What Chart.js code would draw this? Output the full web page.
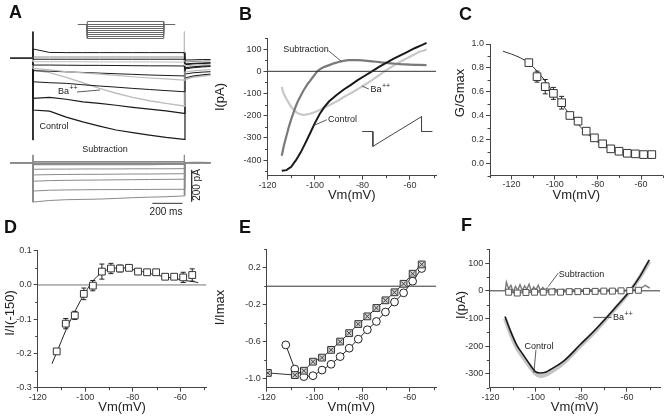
<!DOCTYPE html>
<html>
<head>
<meta charset="utf-8">
<script src="https://cdn.jsdelivr.net/npm/chart.js@4.4.1/dist/chart.umd.min.js"></script>
<style>
body { margin: 0; background: #fff; }
#fig { position: relative; width: 669px; height: 419px; overflow: hidden; }
#fig canvas { position: absolute; }
.lab { position: absolute; font: bold 18px 'Liberation Sans', Arial, sans-serif; line-height: 18px; color: #111; }
</style>
</head>
<body>
<div id="fig">
	<canvas id="cAp" width="115" height="30" style="left:68px;top:14px"></canvas>
	<canvas id="cAu" width="215" height="122" style="left:0px;top:25px"></canvas>
	<canvas id="cAl" width="215" height="79" style="left:0px;top:140px"></canvas>
	<canvas id="cB" width="234" height="210" style="left:210px;top:0px"></canvas>
	<canvas id="cC" width="224" height="210" style="left:445px;top:0px"></canvas>
	<canvas id="cD" width="215" height="209" style="left:0px;top:210px"></canvas>
	<canvas id="cE" width="235" height="209" style="left:210px;top:210px"></canvas>
	<canvas id="cF" width="224" height="209" style="left:445px;top:210px"></canvas>
	<div class="lab" style="left:9px;top:3px">A</div>
	<div class="lab" style="left:239px;top:5px">B</div>
	<div class="lab" style="left:459px;top:5px">C</div>
	<div class="lab" style="left:4px;top:218px">D</div>
	<div class="lab" style="left:239px;top:218px">E</div>
	<div class="lab" style="left:461px;top:216px">F</div>
</div>

<script type="text/javascript">
// ---------- data ----------
// A: voltage protocol (schematic)
var protoT = [0, 100, 880, 1000];
var protoHold = -60;
var protoSteps = [-45, -70, -80, -90, -100, -110, -120, -130];

// A: current traces, time in ms, current in pA
var aT = [-150, -2, 0, 110, 220, 330, 440, 550, 660, 770, 880, 1000, 1006, 1060, 1120, 1175];
var aUp1 = [0, 0, 59, 37, 36, 36, 36, 36, 36, 36, 36, 36, -11, -10, -8, -8];
var aUp2 = [0, 0, 8, 8, 8, 8, 8, 8, 8, 8, 8, 8, -24, -20, -18, -16];
var aUp3 = [0, 0, -6, -6, -6, -6, -6, -6, -6, -6, -6, -6, -36, -32, -30, -28];
var aUp4 = [0, 0, -22, -22, -22, -22, -23, -23, -23, -23, -24, -24, -49, -44, -40, -38];
var aUp5 = [0, 0, -43, -43, -44, -45, -45, -46, -47, -48, -48, -49, -68, -60, -55, -52];
var aBa1 = [0, 0, -64, -74, -85, -92, -100, -108, -117, -125, -131, -138, -87, -80, -75, -72];
var aUp7 = [0, 0, -79, -82, -86, -90, -94, -98, -102, -106, -109, -112, -100, -92, -88, -85];
var aUp8 = [0, 0, -149, -155, -159, -168, -176, -183, -191, -198, -205, -212, -125, -112, -105, -100];
var aBa2 = [0, 0, -74, -91, -121, -155, -191, -222, -248, -269, -286, -303, -135, -120, -112, -108];
var aUp10 = [0, 0, -254, -248, -260, -276, -286, -298, -311, -322, -333, -349, -60, -55, -50, -48];
var aCtrl = [0, 0, -328, -335, -373, -403, -430, -455, -472, -487, -502, -514, -40, -36, -33, -31];
var aSpikeT = [0, 0];
var aSpikeUp = [169, -519];
var aSpikeOffT = [1002, 1002];
var aSpikeOffUp = [169, -300];

var aS1 = [0, 0, 6, 5, 6, 5, 6, 5, 6, 5, 6, 5, 0, 1, 0, 0];
var aS2 = [0, 0, -4, -4, -3, -4, -4, -3, -4, -4, -3, -4, 0, -1, 0, 0];
var aS3 = [0, 0, -12, -11, -12, -11, -12, -11, -11, -11, -10, -10, 0, 0, 1, 0];
var aS4 = [0, 0, -42, -41, -41, -40, -40, -40, -39, -39, -39, -38, 0, 0, 0, 0];
var aS5 = [0, 0, -78, -76, -75, -74, -74, -73, -72, -72, -71, -70, 0, 0, 0, 0];
var aS6 = [0, 0, -118, -114, -112, -111, -110, -109, -108, -107, -106, -105, 0, 0, 0, 0];
var aS7 = [0, 0, -180, -175, -173, -172, -171, -171, -170, -170, -169, -169, 0, 0, 0, 0];
var aS8 = [0, 0, -250, -240, -235, -233, -231, -227, -222, -219, -216, -211, 0, 0, 0, 0];
var aSpikeLo = [49, -250];
var aSpikeOffLo = [49, -205];
var barMsT = [790, 990], barMsI = [-258, -258];
var barPaT = [1050, 1050], barPaI = [-46, -246];

// B: ramp I-V curves
var bCtrlV = [-114, -112, -110, -108, -106, -104, -102, -100, -98, -96, -94, -91, -88, -85, -82, -79, -76, -73, -70, -67, -64, -61, -58, -55, -53];
var bCtrlI = [-448, -445, -430, -400, -365, -322, -278, -232, -192, -160, -135, -108, -83, -62, -40, -20, 0, 20, 38, 56, 72, 88, 104, 118, 128];
var bSubV = [-114, -113, -112, -111, -110, -109, -108, -107, -106, -105, -104, -103, -102, -101, -100, -99, -98, -97, -96, -94, -92, -90, -88, -86, -84, -82, -80, -78, -76, -74, -72, -70, -68, -66, -64, -62, -60, -58, -56, -53];
var bSubI = [-380, -330, -290, -250, -215, -185, -155, -130, -110, -90, -72, -56, -42, -28, -14, 0, 9, 15, 20, 28, 36, 42, 47, 50, 51, 50, 49, 47, 45, 43, 40, 38, 36, 34, 32, 31, 30, 29, 29, 28];
var bBaV = [-114, -113.5, -113, -112, -111, -110, -109, -108, -107, -106, -105, -104, -102, -100, -98, -96, -94, -92, -90, -88, -86, -84, -82, -80, -78, -76, -74, -72, -70, -68, -66, -64, -62, -60, -58, -56, -54, -53];
var bBaI = [-70, -90, -105, -125, -143, -160, -173, -183, -190, -194, -196, -195, -191, -183, -174, -163, -153, -142, -130, -117, -105, -93, -80, -67, -54, -40, -25, -10, 5, 18, 31, 43, 55, 66, 77, 88, 94, 99];
var bInsetV = [-80.1, -75.6, -75.6, -55.1, -55.1, -50.5];
var bInsetI = [-271, -271, -338, -204, -271, -271];

// step voltages used in C, D, E
var vSteps = [-112, -108.2, -104.4, -100.6, -96.8, -93, -89.2, -85.4, -81.6, -77.8, -74, -70.2, -66.4, -62.6, -58.8, -55];

// C: G/Gmax
var cG = [0.844, 0.727, 0.643, 0.587, 0.509, 0.402, 0.355, 0.271, 0.215, 0.165, 0.123, 0.103, 0.086, 0.081, 0.075, 0.075];
var cErr = [0.015, 0.046, 0.06, 0.05, 0.053, 0.02, 0.03, 0.015, 0.01, 0.008, 0.008, 0.008, 0.006, 0.006, 0.006, 0.006];
var cFitV = [-124, -120, -116, -112, -108, -104, -100, -96, -92, -88, -84, -80, -76, -72, -68, -64, -60, -56, -53.5];
var cFitG = [0.94, 0.915, 0.885, 0.84, 0.77, 0.68, 0.58, 0.48, 0.39, 0.305, 0.235, 0.178, 0.135, 0.107, 0.09, 0.08, 0.073, 0.068, 0.065];

// D: I/I(-150)
var dI = [-0.194, -0.113, -0.089, -0.026, -0.002, 0.039, 0.048, 0.048, 0.05, 0.039, 0.037, 0.037, 0.024, 0.024, 0.022, 0.029];
var dErr = [0.005, 0.015, 0.012, 0.017, 0.015, 0.022, 0.015, 0.01, 0.008, 0.007, 0.004, 0.004, 0.004, 0.005, 0.015, 0.018];
var dFitV = [-114, -112, -110, -108, -106, -104, -102, -100, -98, -96, -94, -92, -90, -88, -86, -84, -82, -80, -78, -76, -74, -72, -70, -68, -66, -64, -62, -60, -58, -56, -54, -52.5];
var dFitI = [-0.23, -0.197, -0.163, -0.13, -0.1, -0.072, -0.046, -0.022, 0.0, 0.018, 0.031, 0.04, 0.046, 0.049, 0.05, 0.05, 0.048, 0.045, 0.042, 0.039, 0.035, 0.032, 0.029, 0.026, 0.023, 0.021, 0.018, 0.016, 0.013, 0.011, 0.009, 0.007];

// E: I/Imax
var eSqV = [-119.5, -108.2, -104.4, -100.6, -96.8, -93, -89.2, -85.4, -81.6, -77.8, -74, -70.2, -66.4, -62.6, -58.8, -55];
var eSq = [-0.94, -0.963, -0.916, -0.818, -0.774, -0.69, -0.6, -0.509, -0.41, -0.327, -0.236, -0.153, -0.066, 0.026, 0.135, 0.236];
var eCi = [-0.636, -0.898, -0.98, -0.97, -0.909, -0.846, -0.763, -0.672, -0.574, -0.472, -0.382, -0.28, -0.171, -0.072, 0.054, 0.192];

// F: I-V
var fCtrlV = [-113.6, -111.4, -108.5, -105.6, -102.6, -100.4, -98.2, -95.5, -93.8, -88, -80.6, -73.3, -66, -58.7, -54.3, -50.2];
var fCtrlI = [-93, -141, -195, -231, -267, -291, -297, -293, -285, -255, -195, -135, -69, 0, 52, 112];
var fBaI = [-100, -150, -205, -240, -275, -298, -308, -303, -295, -262, -200, -140, -72, -2, 50, 105];
var fSubV = [-113.5, -113, -112, -111, -110, -109, -108, -107, -106, -105, -104, -103, -102, -101, -100, -99, -98, -97, -96, -95, -94, -92, -90, -88, -86, -84, -82, -80, -78, -76, -74, -72, -70, -68, -66, -64, -62, -60, -58, -56, -54, -52, -50];
var fSubI = [0, 32, 8, 20, -4, 16, 2, 22, 0, 18, 6, 24, -2, 14, 4, 20, 0, 12, 2, 10, -2, 8, 0, 6, -2, 5, 0, 4, -3, 4, 0, 3, -2, 4, 0, 3, -2, 4, 6, 2, 8, 20, 10];
var fSq = [-5, -8, -6, -5, -5, -4, -5, -3, -3, -2, -2, -1, -1, 0, 1, 2];

// tick values
var vTicks = [-120, -100, -80, -60];
var vMinor = [-130, -110, -90, -70, -50];
var bYTicks = [-400, -300, -200, -100, 0, 100];
var bYMinor = [-450, -350, -250, -150, -50, 50, 150];
var cYTicks = [0, 0.2, 0.4, 0.6, 0.8, 1.0];
var cYMinor = [-0.1, 0.1, 0.3, 0.5, 0.7, 0.9];
var dYTicks = [-0.3, -0.2, -0.1, 0, 0.1];
var dYMinor = [-0.25, -0.15, -0.05, 0.05];
var eYTicks = [-1.0, -0.6, -0.2, 0.2];
var eYMinor = [-0.8, -0.4, 0.0, 0.4];
var fYTicks = [-300, -200, -100, 0, 100];
var fYMinor = [-350, -250, -150, -50, 50, 150];

// ---------- drawing ----------
var FONT = "'Liberation Sans', Arial, sans-serif";
var AX = '#444';
var BLK = '#1a1a1a', GRY = '#8a8a8a', LGT = '#bdbdbd';
var extras = {};

function pts(xs, ys) { return xs.map(function (x, i) { return {x: x, y: ys[i]}; }); }

function L(xs, ys, color, w, o) {
	return Object.assign({data: pts(xs, ys), borderColor: color, borderWidth: w, pointRadius: 0, fill: false, tension: 0}, o || {});
}

function M(xs, ys, style, r, stroke, fill, o) {
	return Object.assign({data: pts(xs, ys), showLine: false, pointStyle: style, pointRadius: r,
		pointBorderColor: stroke, pointBackgroundColor: fill, pointBorderWidth: 1, borderColor: stroke, borderWidth: 1}, o || {});
}

function drawText(ctx, t, chart) {
	var x = t.x, y = t.y;
	if (t.data) { x = chart.scales.x.getPixelForValue(t.x); y = chart.scales.y.getPixelForValue(t.y); }
	var size = t.size || 9;
	ctx.save();
	ctx.translate(x, y);
	if (t.rot) ctx.rotate(t.rot * Math.PI / 180);
	ctx.fillStyle = t.color || '#222';
	ctx.font = size + 'px ' + FONT;
	ctx.textBaseline = 'middle';
	ctx.textAlign = t.align || 'center';
	ctx.fillText(t.s, 0, 0);
	if (t.sup) {
		var w = ctx.measureText(t.s).width;
		var x0 = t.align === 'left' ? w : (t.align === 'right' ? 0 : w / 2);
		ctx.font = Math.round(size * 0.75) + 'px ' + FONT;
		ctx.textAlign = 'left';
		ctx.fillText(t.sup, x0 + 0.5, -size * 0.42);
	}
	ctx.restore();
}

var deco = {
	id: 'deco',
	beforeDatasetsDraw: function (chart) {
		var e = extras[chart.canvas.id];
		if (!e || !e.err) return;
		var ctx = chart.ctx, xs = chart.scales.x, ys = chart.scales.y;
		ctx.save();
		ctx.strokeStyle = e.err.color;
		ctx.lineWidth = 1;
		e.err.x.forEach(function (v, i) {
			var px = xs.getPixelForValue(v);
			var y1 = ys.getPixelForValue(e.err.y[i] + e.err.e[i]);
			var y2 = ys.getPixelForValue(e.err.y[i] - e.err.e[i]);
			ctx.beginPath();
			ctx.moveTo(px, y1); ctx.lineTo(px, y2);
			ctx.moveTo(px - 2.5, y1); ctx.lineTo(px + 2.5, y1);
			ctx.moveTo(px - 2.5, y2); ctx.lineTo(px + 2.5, y2);
			ctx.stroke();
		});
		ctx.restore();
	},
	afterDraw: function (chart) {
		var e = extras[chart.canvas.id];
		if (!e) return;
		var ctx = chart.ctx, xs = chart.scales.x, ys = chart.scales.y, a = chart.chartArea;
		ctx.save();
		ctx.strokeStyle = AX;
		ctx.lineWidth = 1;
		(e.minorX || []).forEach(function (v) {
			if (v < xs.min || v > xs.max) return;
			var p = Math.round(xs.getPixelForValue(v)) + 0.5;
			ctx.beginPath(); ctx.moveTo(p, a.bottom); ctx.lineTo(p, a.bottom + 2.5); ctx.stroke();
		});
		(e.minorY || []).forEach(function (v) {
			if (v < ys.min || v > ys.max) return;
			var p = Math.round(ys.getPixelForValue(v)) + 0.5;
			ctx.beginPath(); ctx.moveTo(a.left - 2.5, p); ctx.lineTo(a.left, p); ctx.stroke();
		});
		ctx.strokeStyle = '#333';
		ctx.lineWidth = 0.8;
		(e.leaders || []).forEach(function (l) {
			var x1 = l[0], y1 = l[1], x2 = l[2], y2 = l[3];
			if (!e.pxLeaders) {
				x1 = xs.getPixelForValue(x1); y1 = ys.getPixelForValue(y1);
				x2 = xs.getPixelForValue(x2); y2 = ys.getPixelForValue(y2);
			}
			ctx.beginPath(); ctx.moveTo(x1, y1); ctx.lineTo(x2, y2); ctx.stroke();
		});
		(e.texts || []).forEach(function (t) { drawText(ctx, t, chart); });
		ctx.restore();
	}
};
Chart.register(deco);

function fmt(dec) { return function (v) { return Number(v).toFixed(dec); }; }

function axisX(min, max, ticks, h, pb) {
	return {
		type: 'linear', min: min, max: max,
		afterBuildTicks: function (s) { s.ticks = ticks.map(function (v) { return {value: v}; }); },
		afterFit: function (s) { s.height = h; },
		grid: {drawOnChartArea: false, drawTicks: true, tickLength: 4, color: AX},
		border: {display: true, color: AX, width: 1},
		ticks: {font: {family: FONT, size: 9}, color: '#333', padding: 0, maxRotation: 0, autoSkip: false, callback: fmt(0)},
		title: {display: true, text: 'Vm(mV)', font: {family: FONT, size: 13}, color: '#222', padding: {top: 0, bottom: pb}}
	};
}

function axisY(min, max, ticks, w, dec) {
	return {
		type: 'linear', min: min, max: max,
		afterBuildTicks: function (s) { s.ticks = ticks.map(function (v) { return {value: v}; }); },
		afterFit: function (s) { s.width = w; },
		grid: {drawOnChartArea: false, drawTicks: true, tickLength: 4, color: AX},
		border: {display: true, color: AX, width: 1},
		ticks: {font: {family: FONT, size: 9}, color: '#333', padding: 2, autoSkip: false, callback: fmt(dec)}
	};
}

function hidden(min, max) { return {type: 'linear', display: false, min: min, max: max}; }

function mk(id, ds, pad, x, y, extra) {
	extras[id] = extra || {};
	return new Chart(document.getElementById(id), {
		type: 'line',
		data: {datasets: ds},
		options: {
			responsive: false, animation: false, events: [],
			layout: {padding: pad},
			elements: {point: {radius: 0}},
			plugins: {legend: {display: false}, tooltip: {enabled: false}},
			scales: {x: x, y: y}
		}
	});
}

// ----- A: protocol -----
var protoDs = [L([protoT[0], protoT[3]], [protoHold, protoHold], '#666', 1)];
protoSteps.forEach(function (v) {
	protoDs.push(L([protoT[1], protoT[1], protoT[2], protoT[2]], [protoHold, v, v, protoHold], '#666', 1));
});
mk('cAp', protoDs, {left: 9.5, right: 7.5, top: 5.5, bottom: 3.5}, hidden(0, 1000), hidden(-140, -35));

// ----- A: upper traces -----
mk('cAu', [
	L(aT, aUp1, BLK, 1),
	L(aT, aUp2, GRY, 1),
	L(aT, aUp3, BLK, 1),
	L(aT, aUp4, LGT, 1),
	L(aT, aUp5, BLK, 1),
	L(aT, aBa1, LGT, 1.2),
	L(aT, aUp7, BLK, 1),
	L(aT, aUp8, BLK, 1),
	L(aT, aBa2, LGT, 1.4),
	L(aT, aUp10, BLK, 1.2),
	L(aT, aCtrl, BLK, 1.2),
	L(aSpikeT, aSpikeUp, BLK, 1),
	L(aSpikeOffT, aSpikeOffUp, LGT, 1)
], {left: 8.8, right: 0.7, top: 3, bottom: 2}, hidden(-160, 1200), hidden(-550, 192), {
	pxLeaders: true,
	leaders: [[77, 67, 100, 65]],
	texts: [
		{s: 'Ba', sup: '++', x: 58, y: 67, align: 'left', size: 9},
		{s: 'Control', x: 54, y: 102, size: 9}
	]
});

// ----- A: lower (subtraction) traces -----
mk('cAl', [
	L(aT, aS1, GRY, 1.5),
	L(aT, aS2, GRY, 1.5),
	L(aT, aS3, GRY, 1.5),
	L(aT, aS4, GRY, 1),
	L(aT, aS5, GRY, 1),
	L(aT, aS6, GRY, 1),
	L(aT, aS7, GRY, 1),
	L(aT, aS8, GRY, 1),
	L(aSpikeT, aSpikeLo, GRY, 1),
	L(aSpikeOffT, aSpikeOffLo, GRY, 1),
	L(barMsT, barMsI, '#333', 1),
	L(barPaT, barPaI, '#333', 1)
], {left: 8.8, right: 0.7, top: 5, bottom: 4}, hidden(-160, 1200), hidden(-332, 112), {
	texts: [
		{s: 'Subtraction', x: 105, y: 10, size: 9},
		{s: '200 ms', x: 166, y: 72, size: 10},
		{s: '200 pA', x: 197, y: 45, rot: -90, size: 10}
	]
});

// ----- B -----
mk('cB', [
	L(bInsetV, bInsetI, '#444', 1),
	L([-120, -49], [0, 0], '#333', 1),
	L(bCtrlV, bCtrlI, BLK, 2),
	L(bSubV, bSubI, '#7a7a7a', 2.2),
	L(bBaV, bBaI, '#c8c8c8', 2.2)
], {left: 0, top: 38, right: 8, bottom: 0},
	axisX(-120, -49, vTicks, 34.3, 7), axisY(-470, 150, bYTicks, 57.5, 0), {
	minorX: vMinor, minorY: bYMinor,
	leaders: [[-94.2, 92, -89, 46], [-77.3, -80, -80.2, -66], [-95, -218, -100.8, -245]],
	texts: [
		{s: 'I(pA)', x: 10, y: 97, rot: -90, size: 13},
		{s: 'Subtraction', x: -103.8, y: 99, data: true},
		{s: 'Ba', sup: '++', x: -76.6, y: -84, data: true, align: 'left'},
		{s: 'Control', x: -88.4, y: -215, data: true}
	]
});

// ----- C -----
mk('cC', [
	M(vSteps, cG, 'rect', 5.4, '#333', '#fff'),
	L(cFitV, cFitG, '#333', 1, {cubicInterpolationMode: 'monotone'})
], {left: 0, top: 44, right: 1, bottom: 0},
	axisX(-130, -50, vTicks, 34.5, 7), axisY(-0.1, 1.0, cYTicks, 45, 1), {
	minorX: vMinor, minorY: cYMinor,
	err: {x: vSteps, y: cG, e: cErr, color: '#222'},
	texts: [{s: 'G/Gmax', x: 15, y: 93, rot: -90, size: 13}]
});

// ----- D -----
mk('cD', [
	M(vSteps, dI, 'rect', 4.8, '#333', '#fff'),
	L(dFitV, dFitI, '#222', 1, {cubicInterpolationMode: 'monotone'}),
	L([-120, -49], [0, 0], '#777', 1)
], {left: 0, top: 40.7, right: 8.5, bottom: 0},
	axisX(-120, -49, vTicks, 31.3, 3.7), axisY(-0.3, 0.1, dYTicks, 37.7, 1), {
	minorX: vMinor, minorY: dYMinor,
	err: {x: vSteps, y: dI, e: dErr, color: '#222'},
	texts: [{s: 'I/I(-150)', x: 10, y: 103, rot: -90, size: 13}]
});

// ----- E -----
mk('cE', [
	M(eSqV, eSq, 'crossRot', 3.2, '#444', '#444'),
	M(eSqV, eSq, 'rect', 4.8, '#333', '#cfcfcf', {showLine: true}),
	M(vSteps, eCi, 'circle', 3.9, '#222', '#fff', {showLine: true}),
	L([-120, -49], [0, 0], '#333', 1)
], {left: 0, top: 39.3, right: 9, bottom: 0},
	axisX(-120, -49, vTicks, 31.3, 3.7), axisY(-1.1, 0.4, eYTicks, 56.7, 1), {
	minorX: vMinor, minorY: eYMinor,
	texts: [{s: 'I/Imax', x: 10, y: 97.5, rot: -90, size: 13}]
});

// ----- F -----
mk('cF', [
	M(vSteps, fSq, 'rect', 4.2, '#555', '#fff', {showLine: true, borderColor: '#555'}),
	L(fSubV, fSubI, '#7a7a7a', 1.4),
	L(fCtrlV, fCtrlI, BLK, 1.6, {cubicInterpolationMode: 'monotone'}),
	L(fCtrlV, fBaI, '#c4c4c4', 4, {cubicInterpolationMode: 'monotone'}),
	L([-120.5, -45.5], [0, 0], '#333', 1)
], {left: 0, top: 39.3, right: 9, bottom: 0},
	axisX(-120.5, -45.5, vTicks, 31.3, 3.7), axisY(-350, 150, fYTicks, 44.3, 0), {
	minorX: vMinor, minorY: fYMinor,
	leaders: [[-90.2, 64, -94.6, 15.5], [-66.7, -96, -74.8, -96], [-100, -213, -100.9, -296]],
	texts: [
		{s: 'I(pA)', x: 16.7, y: 95, rot: -90, size: 13},
		{s: 'Subtraction', x: -80, y: 58, data: true},
		{s: 'Ba', sup: '++', x: -66.1, y: -96, data: true, align: 'left'},
		{s: 'Control', x: -98.7, y: -202, data: true}
	]
});
</script>
</body>
</html>
